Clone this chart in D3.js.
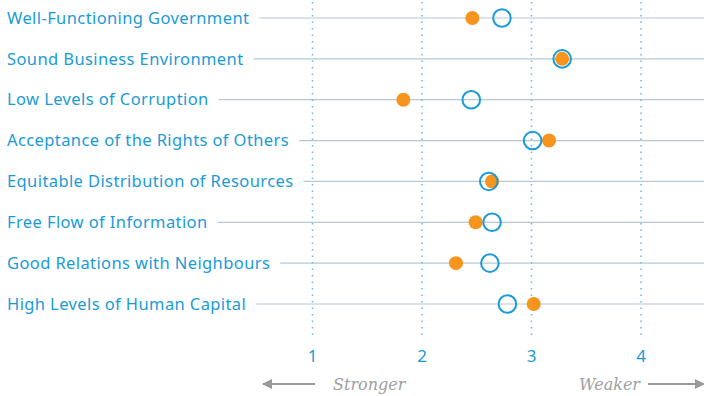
<!DOCTYPE html>
<html>
<head>
<meta charset="utf-8">
<script src="https://cdn.jsdelivr.net/npm/d3@7"></script>
<style>
  body { margin: 0; background: #fff; }
  svg { display: block; }
</style>
</head>
<body>
<div id="chart"></div>
<script>
// Data
const categories = [
  "Well-Functioning Government",
  "Sound Business Environment",
  "Low Levels of Corruption",
  "Acceptance of the Rights of Others",
  "Equitable Distribution of Resources",
  "Free Flow of Information",
  "Good Relations with Neighbours",
  "High Levels of Human Capital"
];
const orangeValues = [2.46, 3.28, 1.83, 3.16, 2.64, 2.49, 2.31, 3.02];
const blueValues   = [2.73, 3.28, 2.45, 3.01, 2.61, 2.64, 2.62, 2.78];
const tickValues = [1, 2, 3, 4];
const leftLabel = "Stronger";
const rightLabel = "Weaker";

const width = 704, height = 396;
const blue = "#1a9bd7";
const orange = "#f7941d";

const svg = d3.select("#chart").append("svg")
  .attr("width", width)
  .attr("height", height);

const x = d3.scaleLinear().domain([1, 4]).range([312.5, 641]);
const y = d3.scalePoint().domain(categories).range([18, 304]);

// Dotted vertical gridlines
svg.append("g")
  .selectAll("line")
  .data(tickValues)
  .join("line")
  .attr("x1", d => x(d)).attr("x2", d => x(d))
  .attr("y1", 2).attr("y2", 335)
  .attr("stroke", "#5dbde6")
  .attr("stroke-width", 1.5)
  .attr("stroke-dasharray", "1.5,5");

// Row labels
const labels = svg.append("g")
  .selectAll("text")
  .data(categories)
  .join("text")
  .attr("x", 7)
  .attr("y", d => y(d))
  .attr("dy", "0.35em")
  .attr("fill", blue)
  .style("font-family", "'Noto Sans', sans-serif")
  .style("font-size", "16.5px")
  .style("letter-spacing", "0.4px")
  .text(d => d);

// Horizontal row lines from end of label to right edge
labels.each(function(d) {
  const w = this.getComputedTextLength();
  svg.insert("line", "g")
    .attr("x1", 7 + w + 10)
    .attr("x2", width)
    .attr("y1", y(d)).attr("y2", y(d))
    .attr("stroke", "#b6c8d6")
    .attr("stroke-width", 1.2);
});

// Orange dots
svg.append("g")
  .selectAll("circle")
  .data(categories)
  .join("circle")
  .attr("cx", (d, i) => x(orangeValues[i]))
  .attr("cy", d => y(d))
  .attr("r", 7)
  .attr("fill", orange);

// Blue rings
svg.append("g")
  .selectAll("circle")
  .data(categories)
  .join("circle")
  .attr("cx", (d, i) => x(blueValues[i]))
  .attr("cy", d => y(d))
  .attr("r", 8.8)
  .attr("fill", "none")
  .attr("stroke", blue)
  .attr("stroke-width", 2);

// Tick labels
svg.append("g")
  .selectAll("text")
  .data(tickValues)
  .join("text")
  .attr("x", d => x(d))
  .attr("y", 356)
  .attr("dy", "0.35em")
  .attr("text-anchor", "middle")
  .attr("fill", blue)
  .style("font-family", "'Noto Sans', sans-serif")
  .style("font-size", "17px")
  .text(d => d);

// Direction arrows
const grey = "#9a9a9a";
const defs = svg.append("defs");
defs.append("marker")
  .attr("id", "head")
  .attr("viewBox", "0 0 10 10")
  .attr("refX", 9).attr("refY", 5)
  .attr("markerWidth", 5).attr("markerHeight", 5)
  .attr("markerUnits", "strokeWidth")
  .attr("orient", "auto")
  .append("path")
  .attr("d", "M0,0L10,5L0,10Z")
  .attr("fill", grey);

const ay = 384;
svg.append("line")
  .attr("x1", 315).attr("x2", 263)
  .attr("y1", ay).attr("y2", ay)
  .attr("stroke", grey).attr("stroke-width", 2)
  .attr("marker-end", "url(#head)");
svg.append("line")
  .attr("x1", 648).attr("x2", 704)
  .attr("y1", ay).attr("y2", ay)
  .attr("stroke", grey).attr("stroke-width", 2)
  .attr("marker-end", "url(#head)");

svg.append("text")
  .attr("x", 333).attr("y", ay).attr("dy", "0.35em")
  .attr("fill", "#a0a0a0")
  .style("font-family", "'DejaVu Serif', serif")
  .style("font-style", "italic")
  .style("font-size", "16px")
  .text(leftLabel);
svg.append("text")
  .attr("x", 640).attr("y", ay).attr("dy", "0.35em")
  .attr("text-anchor", "end")
  .attr("fill", "#a0a0a0")
  .style("font-family", "'DejaVu Serif', serif")
  .style("font-style", "italic")
  .style("font-size", "16px")
  .text(rightLabel);
</script>
</body>
</html>
